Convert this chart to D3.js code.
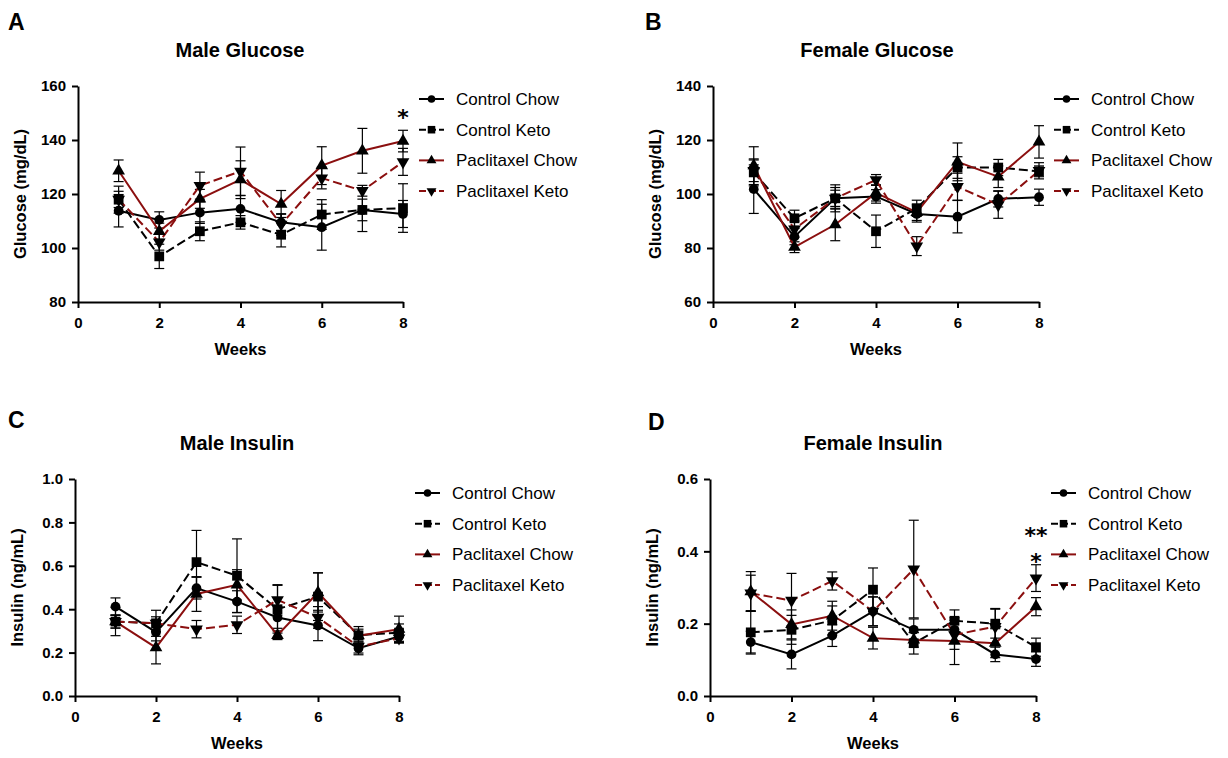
<!DOCTYPE html>
<html>
<head>
<meta charset="utf-8">
<script src="https://cdn.jsdelivr.net/npm/d3@7"></script>
<style>
  body { margin: 0; background: #fff; }
  svg { display: block; font-family: "Liberation Sans", Arial, sans-serif; }
</style>
</head>
<body>
<div id="chart"></div>
<script>
// semaines et groupes
const weeks = [1, 2, 3, 4, 5, 6, 7, 8];
const groups = ['Control Chow', 'Control Keto', 'Paclitaxel Chow', 'Paclitaxel Keto'];
const xTicks = [0, 2, 4, 6, 8];

// A - glucose mâles (moyenne puis SEM), ordre : CC, CK, PC, PK
const maleGlucoseMean = [
  [113.8, 110.4, 113.1, 114.5, 109.5, 107.7, 114.1, 112.6],
  [117.9, 96.9, 106.2, 109.5, 104.9, 112.4, 114.1, 114.8],
  [128.6, 106.2, 118.2, 125.3, 116.3, 130.5, 136.0, 139.6],
  [118.0, 102.2, 123.1, 128.4, 108.7, 125.9, 121.2, 131.9]
];
const maleGlucoseSem = [
  [6, 3, 4, 5, 3, 8.5, 8, 5],
  [5, 4.5, 3.5, 2.5, 4.5, 5.5, 4, 9],
  [4, 3, 3.5, 7, 5, 7, 8.3, 4],
  [3, 3, 5, 9, 4, 4, 2, 5]
];
const maleGlucoseTicks = [80, 100, 120, 140, 160];

// B - glucose femelles
const femaleGlucoseMean = [
  [101.8, 84.2, 98.4, 99.1, 92.6, 91.6, 98.2, 98.8],
  [108.0, 91.0, 98.4, 86.2, 94.7, 109.8, 109.8, 108.4],
  [110.5, 80.3, 88.7, 100.4, 93.2, 111.9, 106.4, 119.3],
  [108.6, 87.0, 98.4, 105.2, 80.7, 102.7, 96.0, 108.6]
];
const femaleGlucoseSem = [
  [9, 3, 3, 2.5, 3, 6, 3, 3],
  [5, 3, 5, 6, 3, 4, 3, 2],
  [7, 2, 6, 3, 3, 7, 4, 6],
  [4, 3, 4, 2, 3.5, 5, 5, 3]
];
const femaleGlucoseTicks = [60, 80, 100, 120, 140];

// C - insuline mâles
const maleInsulinMean = [
  [0.412, 0.294, 0.497, 0.435, 0.362, 0.325, 0.220, 0.274],
  [0.343, 0.335, 0.617, 0.554, 0.400, 0.458, 0.280, 0.292],
  [0.343, 0.223, 0.470, 0.512, 0.280, 0.477, 0.278, 0.308],
  [0.343, 0.335, 0.308, 0.328, 0.443, 0.362, 0.228, 0.266]
];
const maleInsulinSem = [
  [0.04, 0.04, 0.05, 0.05, 0.05, 0.07, 0.03, 0.03],
  [0.065, 0.06, 0.146, 0.17, 0.11, 0.11, 0.04, 0.04],
  [0.03, 0.075, 0.08, 0.07, 0.02, 0.09, 0.03, 0.06],
  [0.03, 0.03, 0.04, 0.04, 0.07, 0.05, 0.03, 0.02]
];
const maleInsulinTicks = [0, 0.2, 0.4, 0.6, 0.8, 1.0];

// D - insuline femelles
const femaleInsulinMean = [
  [0.149, 0.115, 0.167, 0.234, 0.183, 0.183, 0.115, 0.102],
  [0.176, 0.183, 0.209, 0.294, 0.146, 0.208, 0.200, 0.135],
  [0.289, 0.198, 0.222, 0.160, 0.155, 0.152, 0.146, 0.247],
  [0.284, 0.264, 0.318, 0.234, 0.351, 0.169, 0.192, 0.326]
];
const femaleInsulinSem = [
  [0.03, 0.04, 0.03, 0.04, 0.03, 0.03, 0.02, 0.02],
  [0.06, 0.04, 0.04, 0.06, 0.03, 0.03, 0.04, 0.025],
  [0.055, 0.04, 0.04, 0.03, 0.02, 0.065, 0.04, 0.025],
  [0.05, 0.075, 0.025, 0.04, 0.135, 0.04, 0.05, 0.037]
];
const femaleInsulinTicks = [0, 0.2, 0.4, 0.6];

// style de chaque groupe
const RED = '#8b0f0f';
const lineColors = ['#000', '#000', RED, RED];
const lineDash = [null, '9,4', null, '9,4'];
const shapes = [d3.symbolCircle, d3.symbolSquare, d3.symbolTriangle, d3.symbolTriangle];
const shapeSize = [75, 95, 70, 70];
const shapeRot = [0, 0, 0, 180];

const svg = d3.select('#chart').append('svg')
  .attr('width', 1228)
  .attr('height', 758);

const panels = [
  { letter: 'A', lx: 8, ly: 30, title: 'Male Glucose', tx: 240, ty: 57, yLabel: 'Glucose (mg/dL)',
    x0: 78, x1: 403, yTop: 86, yBot: 302, yDomain: [80, 160], yTicks: maleGlucoseTicks, fmt: d3.format('d'),
    means: maleGlucoseMean, sems: maleGlucoseSem, legX: 419, legY: 99,
    stars: [{ t: '*', x: 403, y: 112 }] },
  { letter: 'B', lx: 645, ly: 30, title: 'Female Glucose', tx: 877, ty: 57, yLabel: 'Glucose (mg/dL)',
    x0: 713, x1: 1039, yTop: 86, yBot: 302, yDomain: [60, 140], yTicks: femaleGlucoseTicks, fmt: d3.format('d'),
    means: femaleGlucoseMean, sems: femaleGlucoseSem, legX: 1054, legY: 99, stars: [] },
  { letter: 'C', lx: 8, ly: 428, title: 'Male Insulin', tx: 237, ty: 450, yLabel: 'Insulin (ng/mL)',
    x0: 75, x1: 399, yTop: 479, yBot: 696, yDomain: [0, 1.0], yTicks: maleInsulinTicks, fmt: d3.format('.1f'),
    means: maleInsulinMean, sems: maleInsulinSem, legX: 415, legY: 493, stars: [] },
  { letter: 'D', lx: 648, ly: 430, title: 'Female Insulin', tx: 873, ty: 450, yLabel: 'Insulin (ng/mL)',
    x0: 710, x1: 1036, yTop: 479, yBot: 696, yDomain: [0, 0.6], yTicks: femaleInsulinTicks, fmt: d3.format('.1f'),
    means: femaleInsulinMean, sems: femaleInsulinSem, legX: 1051, legY: 493,
    stars: [{ t: '**', x: 1036, y: 530 }, { t: '*', x: 1036, y: 556 }] }
];

const drawPanel = (p) => {
  const g = svg.append('g');
  const x = d3.scaleLinear().domain([0, 8]).range([p.x0, p.x1]);
  const y = d3.scaleLinear().domain(p.yDomain).range([p.yBot, p.yTop]);

  // lettre et titre
  g.append('text').attr('x', p.lx).attr('y', p.ly)
    .style('font-size', '23px').style('font-weight', 'bold').text(p.letter);
  g.append('text').attr('x', p.tx).attr('y', p.ty).attr('text-anchor', 'middle')
    .style('font-size', '20px').style('font-weight', 'bold').text(p.title);

  // axes
  const xAxis = g.append('g').attr('transform', `translate(0,${p.yBot})`)
    .call(d3.axisBottom(x).tickValues(xTicks).tickSize(6).tickSizeOuter(0).tickPadding(9));
  const yAxis = g.append('g').attr('transform', `translate(${p.x0},0)`)
    .call(d3.axisLeft(y).tickValues(p.yTicks).tickFormat(p.fmt).tickSize(6).tickSizeOuter(0).tickPadding(6));
  [xAxis, yAxis].forEach((a) => {
    a.select('.domain').attr('stroke-width', 2);
    a.selectAll('.tick line').attr('stroke-width', 2);
    a.selectAll('.tick text').style('font-size', '15px').style('font-weight', 'bold')
      .style('font-family', '"Liberation Sans", Arial, sans-serif').attr('fill', '#000');
  });

  // titres des axes
  g.append('text').attr('x', (p.x0 + p.x1) / 2).attr('y', p.yBot + 53).attr('text-anchor', 'middle')
    .style('font-size', '16.5px').style('font-weight', 'bold').text('Weeks');
  g.append('text')
    .attr('transform', `translate(${p.x0 - 52},${(p.yTop + p.yBot) / 2}) rotate(-90)`)
    .attr('text-anchor', 'middle')
    .style('font-size', '16.5px').style('font-weight', 'bold').text(p.yLabel);

  // barres d'erreur
  p.means.forEach((serie, i) => {
    const eb = g.append('g').attr('stroke', '#000').attr('stroke-width', 1.2);
    serie.forEach((m, k) => {
      const s = p.sems[i][k];
      const cx = x(weeks[k]);
      eb.append('line').attr('x1', cx).attr('x2', cx).attr('y1', y(m - s)).attr('y2', y(m + s));
      eb.append('line').attr('x1', cx - 5).attr('x2', cx + 5).attr('y1', y(m - s)).attr('y2', y(m - s));
      eb.append('line').attr('x1', cx - 5).attr('x2', cx + 5).attr('y1', y(m + s)).attr('y2', y(m + s));
    });
  });

  // lignes
  const line = d3.line().x((d, k) => x(weeks[k])).y((d) => y(d));
  p.means.forEach((serie, i) => {
    g.append('path').datum(serie)
      .attr('d', line)
      .attr('fill', 'none')
      .attr('stroke', lineColors[i])
      .attr('stroke-width', 2)
      .attr('stroke-dasharray', lineDash[i]);
  });

  // marqueurs
  p.means.forEach((serie, i) => {
    g.append('g').selectAll('path').data(serie).enter().append('path')
      .attr('d', d3.symbol().type(shapes[i]).size(shapeSize[i]))
      .attr('transform', (d, k) => `translate(${x(weeks[k])},${y(d)}) rotate(${shapeRot[i]})`)
      .attr('fill', '#000');
  });

  // étoiles de significativité
  p.stars.forEach((s) => {
    g.append('text').attr('x', s.x).attr('y', s.y + 12.5).attr('text-anchor', 'middle')
      .style('font-family', '"DejaVu Sans", sans-serif')
      .style('font-size', '22px').style('font-weight', 'bold').text(s.t);
  });

  // légende
  groups.forEach((name, i) => {
    const ry = p.legY + i * 30.7;
    g.append('line').attr('x1', p.legX).attr('x2', p.legX + 25).attr('y1', ry).attr('y2', ry)
      .attr('stroke', lineColors[i]).attr('stroke-width', 2)
      .attr('stroke-dasharray', lineDash[i] ? '7,3' : null);
    g.append('path')
      .attr('d', d3.symbol().type(shapes[i]).size(shapeSize[i] * 0.6))
      .attr('transform', `translate(${p.legX + 12.5},${ry}) rotate(${shapeRot[i]})`)
      .attr('fill', '#000');
    g.append('text').attr('x', p.legX + 37).attr('y', ry + 6)
      .style('font-size', '17px').text(name);
  });
};

panels.forEach(drawPanel);
</script>
</body>
</html>
